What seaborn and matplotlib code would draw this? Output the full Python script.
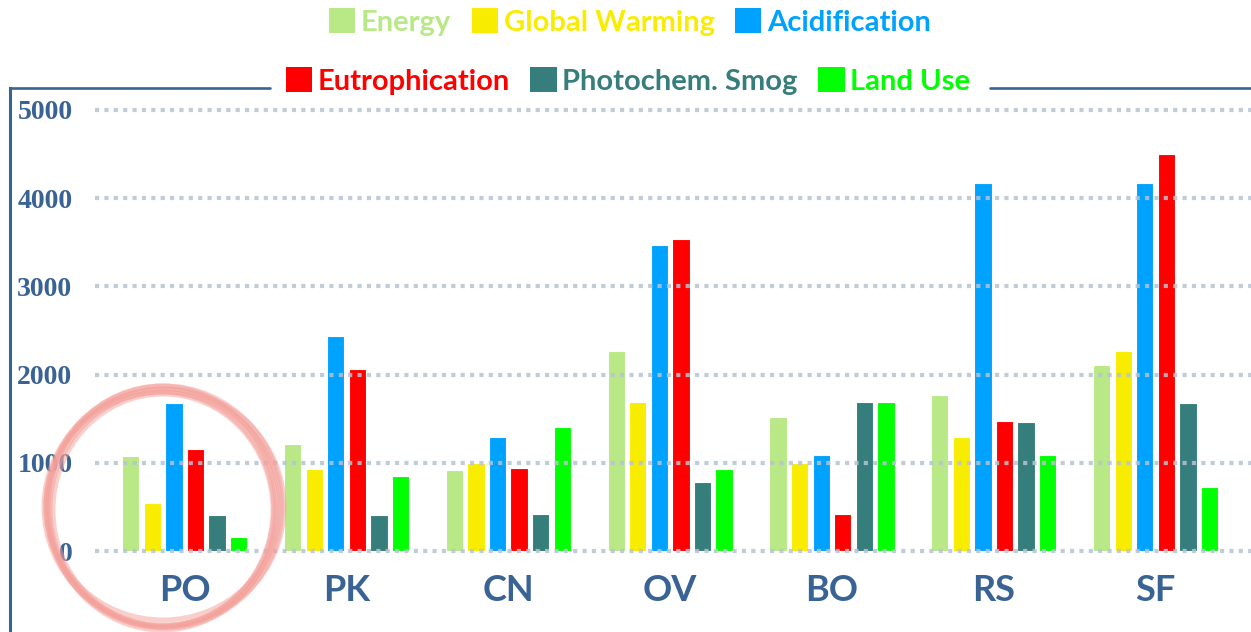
import numpy as np
import pandas as pd
import seaborn as sns
import matplotlib.pyplot as plt
from matplotlib.patches import Patch, Ellipse
from matplotlib.lines import Line2D

# data
sites = ['PO', 'PK', 'CN', 'OV', 'BO', 'RS', 'SF']
impacts = ['Energy', 'Global Warming', 'Acidification',
           'Eutrophication', 'Photochem. Smog', 'Land Use']

energy = [1080, 1220, 925, 2270, 1520, 1765, 2105]
global_warming = [545, 930, 1005, 1690, 1005, 1300, 2270]
acidification = [1685, 2440, 1295, 3465, 1085, 4170, 4170]
eutrophication = [1160, 2065, 945, 3535, 420, 1480, 4500]
photochem_smog = [415, 415, 425, 785, 1690, 1460, 1685]
land_use = [160, 855, 1410, 930, 1690, 1085, 730]

yticks = [0, 1000, 2000, 3000, 4000, 5000]

colors = ['#b8e986', '#f8ec00', '#00a2ff', '#ff0000', '#367e7b', '#00ff00']
navy = '#3a6395'

series = [energy, global_warming, acidification, eutrophication, photochem_smog, land_use]
rows = []
for name, vals in zip(impacts, series):
    for s, v in zip(sites, vals):
        rows.append({'site': s, 'impact': name, 'value': v})
df = pd.DataFrame(rows)

sns.set_style('white')
plt.rcParams['font.family'] = ['Lato', 'DejaVu Sans']

W, H = 1251, 632
fig = plt.figure(figsize=(W / 100, H / 100), dpi=100)
ax = fig.add_axes([10 / W, 0, 1241 / W, 544 / H])

sns.barplot(data=df, x='site', y='value', hue='impact', order=sites,
            hue_order=impacts, palette=colors, saturation=1, width=0.8, gap=0.2,
            edgecolor='white', linewidth=0.8, legend=False, ax=ax, zorder=1)

ax.set_xlim(-1.08, 6.59)
ax.set_ylim(-914, 5247)

# dotted grid drawn over the bars, starting a bit right of the axis
for v in yticks:
    ax.axhline(v, xmin=0.0685, xmax=1, color='#b7c3d3', lw=3,
               ls=(0, (1, 1.25)), alpha=0.85, zorder=3)

ax.set_yticks(yticks)
ax.set_yticklabels([str(v) for v in yticks], fontfamily='Liberation Serif',
                   fontweight='bold', fontsize=20, color=navy)
ax.tick_params(axis='y', length=0, pad=-45)
ax.tick_params(axis='x', length=0, pad=-42)
for lab in ax.get_xticklabels():
    lab.set_fontsize(26)
    lab.set_fontweight('bold')
    lab.set_color(navy)
ax.set_xlabel('')
ax.set_ylabel('')

for side in ['top', 'right', 'bottom']:
    ax.spines[side].set_visible(False)
ax.spines['left'].set_color(navy)
ax.spines['left'].set_linewidth(2.2)

# top frame line, broken where the second legend row sits
ytop = 1 - 88 / H
fig.add_artist(Line2D([10 / W, 270 / W], [ytop, ytop], color=navy, lw=1.9))
fig.add_artist(Line2D([990 / W, 1.0], [ytop, ytop], color=navy, lw=1.9))

# legend in two rows
handles = [Patch(facecolor=c, edgecolor='none') for c in colors]
leg_kw = dict(frameon=False, fontsize=21, handlelength=0.9, handleheight=0.95,
              handletextpad=0.2, columnspacing=0.7, borderpad=0, loc='center')
leg1 = fig.legend(handles[:3], impacts[:3], ncol=3,
                  bbox_to_anchor=(630 / W, 1 - 22 / H), **leg_kw)
leg2 = fig.legend(handles[3:], impacts[3:], ncol=3,
                  bbox_to_anchor=(628 / W, 1 - 81 / H), **leg_kw)
for leg, cols in [(leg1, colors[:3]), (leg2, colors[3:])]:
    for t, c in zip(leg.get_texts(), cols):
        t.set_color(c)
        t.set_fontweight('bold')

# brush-stroke looking circle around PO
ring = [(163, 508, 115, 119), (162, 509, 112, 117), (164, 507, 118, 121),
        (163, 510, 110, 116), (164, 507, 120, 118), (162, 508, 114, 122),
        (163, 506, 117, 114)]
for cx, cy, rx, ry in ring:
    fig.add_artist(Ellipse((cx / W, 1 - cy / H), 2 * rx / W, 2 * ry / H,
                           transform=fig.transFigure, fill=False,
                           edgecolor='#f4a19b', lw=3.6, alpha=0.5))

fig.savefig('out.png', dpi=100)
